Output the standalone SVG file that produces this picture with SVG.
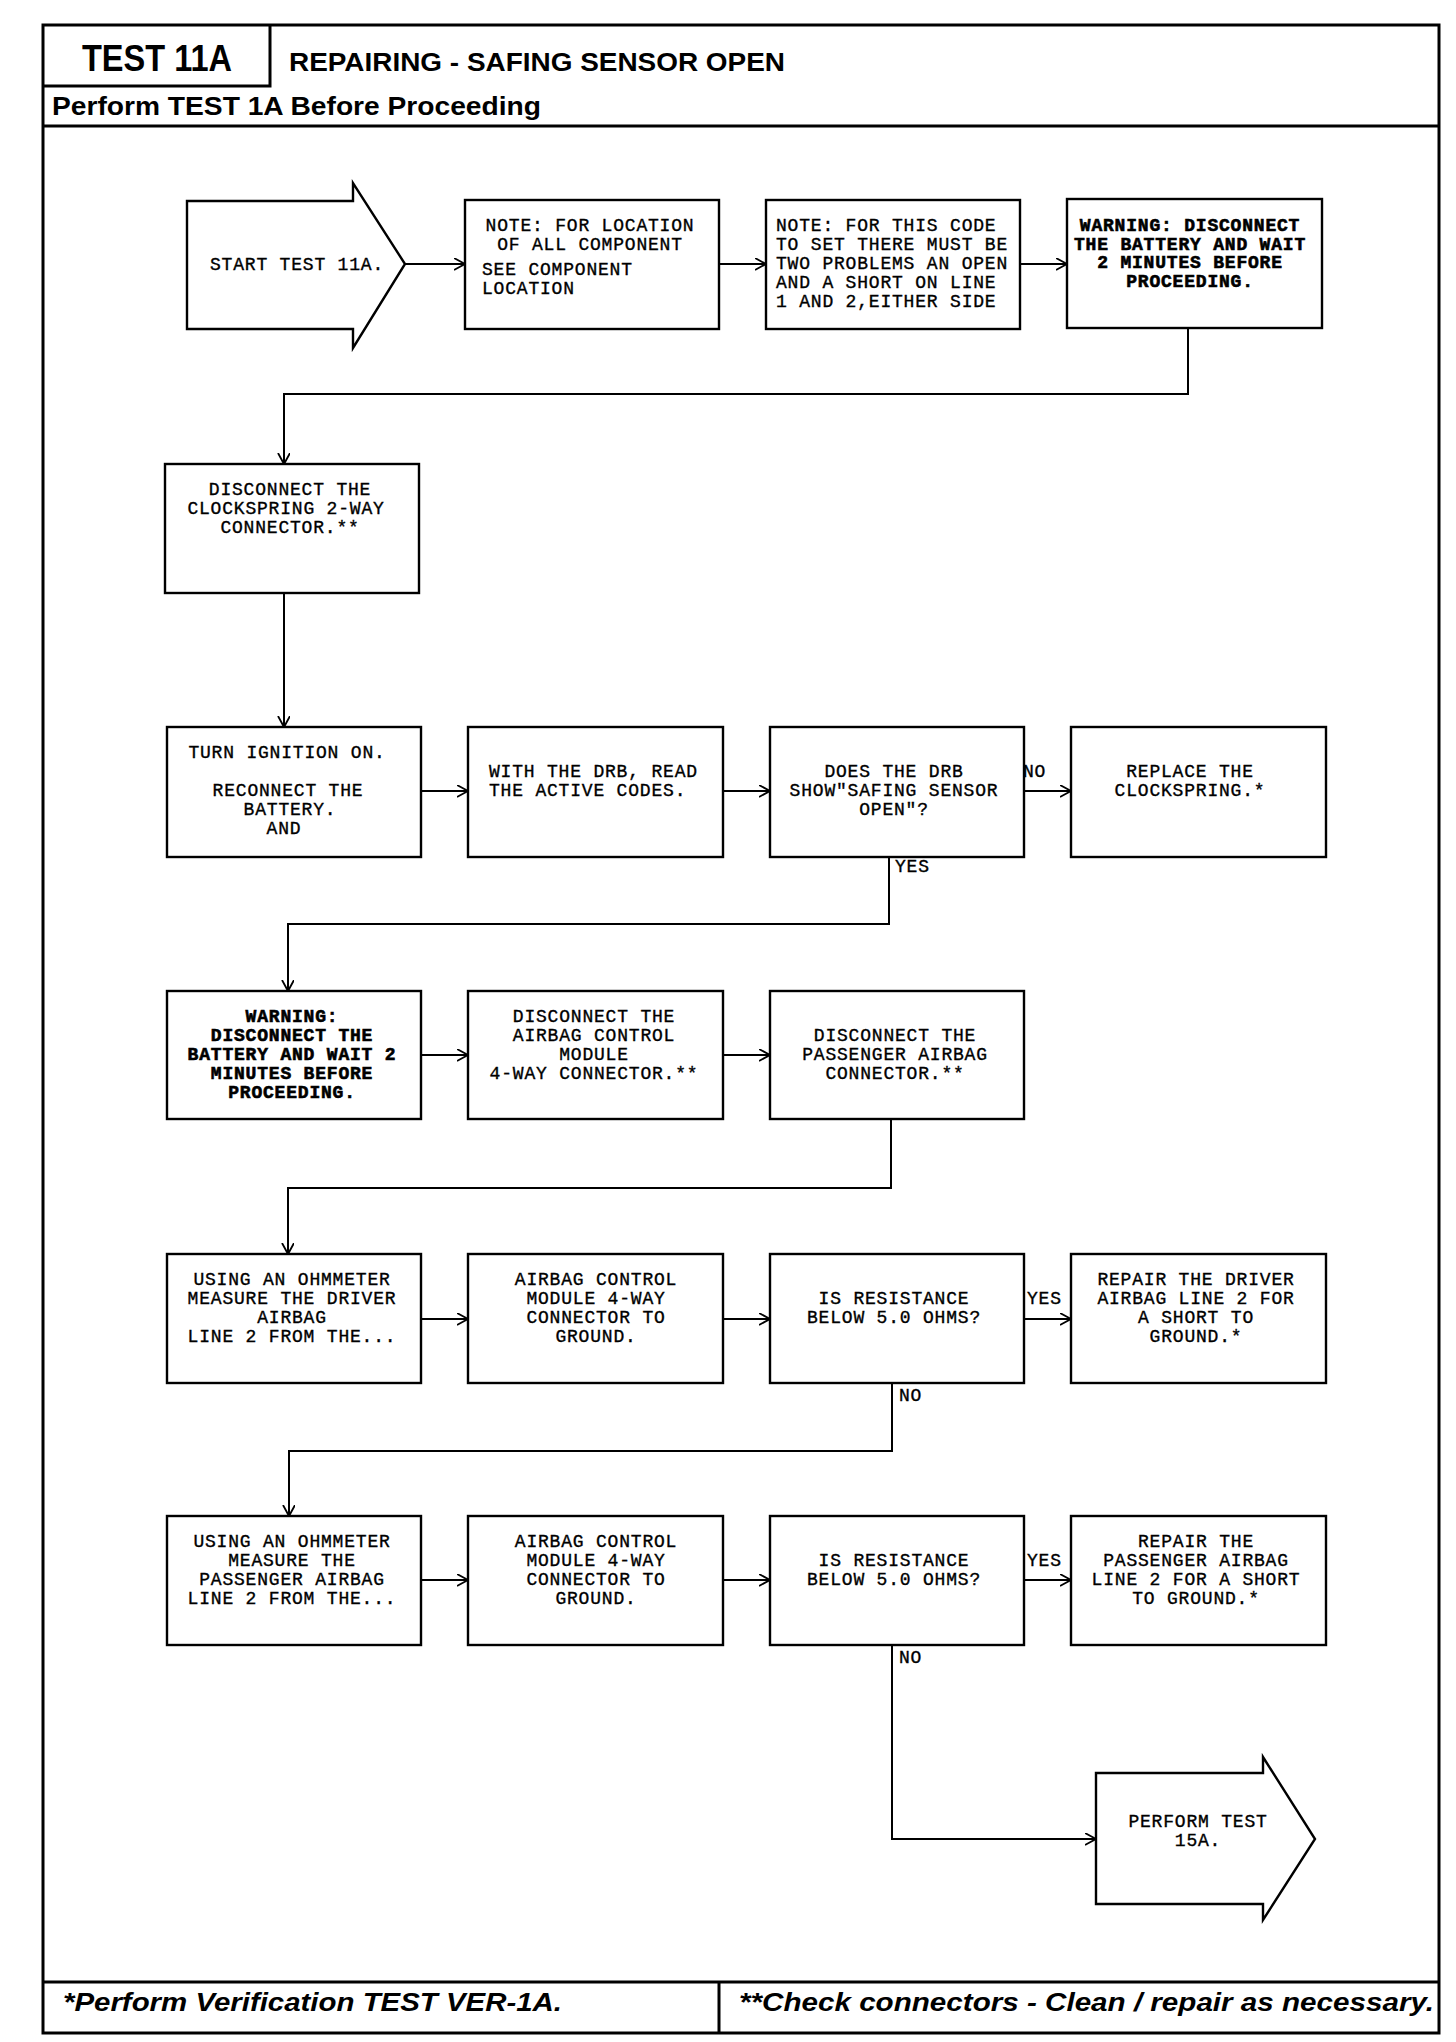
<svg xmlns="http://www.w3.org/2000/svg" width="1456" height="2042" viewBox="0 0 1456 2042">
<defs>
<marker id="arr" markerUnits="userSpaceOnUse" markerWidth="14" markerHeight="14" refX="11" refY="6" orient="auto">
<path d="M0,0 L11,6 L0,12" fill="none" stroke="#000" stroke-width="1.8"/>
</marker>
<style>
.box{fill:#fff;stroke:#000;stroke-width:2.4}
.frame{fill:none;stroke:#000;stroke-width:3}
.ln{fill:none;stroke:#000;stroke-width:2}
.con{fill:none;stroke:#000;stroke-width:2;marker-end:url(#arr)}
.t{font-family:"Liberation Mono","DejaVu Sans Mono",monospace;font-size:18px;letter-spacing:0.8px;fill:#000;stroke:#000;stroke-width:0.35}
.b{font-weight:bold;stroke-width:0.6}
.c{text-anchor:middle}
.h{font-family:"Liberation Sans",Arial,sans-serif;font-weight:bold;fill:#000}
.f{font-family:"Liberation Sans",Arial,sans-serif;font-weight:bold;font-style:italic;font-size:25px;fill:#000}
</style>
</defs>
<rect width="1456" height="2042" fill="#fff"/>

<g id="header">
<rect class="frame" x="43" y="25" width="1396" height="2008"/>
<path class="frame" d="M270,25 V86 H43"/>
<path class="frame" d="M43,126 H1439"/>
<text class="h" x="82" y="71" font-size="36" textLength="150" lengthAdjust="spacingAndGlyphs">TEST 11A</text>
<text class="h" x="289" y="71" font-size="25" textLength="496" lengthAdjust="spacingAndGlyphs">REPAIRING - SAFING SENSOR OPEN</text>
<text class="h" x="52" y="115" font-size="25" textLength="489" lengthAdjust="spacingAndGlyphs">Perform TEST 1A Before Proceeding</text>
</g>

<g id="footer">
<path class="frame" d="M43,1982 H1439 M719,1982 V2033"/>
<text class="f" x="63" y="2011" textLength="499" lengthAdjust="spacingAndGlyphs">*Perform Verification TEST VER-1A.</text>
<text class="f" x="739" y="2011" textLength="695" lengthAdjust="spacingAndGlyphs">**Check connectors - Clean / repair as necessary.</text>
</g>

<g id="connectors">
<path class="con" d="M405,264 H465"/>
<path class="con" d="M719,264 H766"/>
<path class="con" d="M1020,264 H1067"/>
<path class="con" d="M1188,329 V394 H284 V464"/>
<path class="con" d="M284,593 V727"/>
<path class="con" d="M421,791 H468"/>
<path class="con" d="M723,791 H770"/>
<path class="con" d="M1024,791 H1071"/>
<path class="con" d="M889,857 V924 H288 V991"/>
<path class="con" d="M421,1055 H468"/>
<path class="con" d="M723,1055 H770"/>
<path class="con" d="M891,1119 V1188 H288 V1254"/>
<path class="con" d="M421,1319 H468"/>
<path class="con" d="M723,1319 H770"/>
<path class="con" d="M1024,1319 H1071"/>
<path class="con" d="M892,1383 V1451 H289 V1516"/>
<path class="con" d="M421,1580 H468"/>
<path class="con" d="M723,1580 H770"/>
<path class="con" d="M1024,1580 H1071"/>
<path class="con" d="M892,1645 V1839 H1096"/>
<text class="t" x="1023" y="777">NO</text>
<text class="t" x="895" y="872">YES</text>
<text class="t" x="1027" y="1304">YES</text>
<text class="t" x="899" y="1401">NO</text>
<text class="t" x="1027" y="1566">YES</text>
<text class="t" x="899" y="1663">NO</text>
</g>

<g id="start">
<polygon class="box" points="187,201 353,201 353,183 405,264 353,348 353,329 187,329"/>
<text class="t" x="210" y="270">START TEST 11A.</text>
</g>

<g id="note1">
<rect class="box" x="465" y="200" width="254" height="129"/>
<text class="t c" x="590" y="231">NOTE: FOR LOCATION</text>
<text class="t c" x="590" y="250">OF ALL COMPONENT</text>
<text class="t" x="482" y="275">SEE COMPONENT</text>
<text class="t" x="482" y="294">LOCATION</text>
</g>

<g id="note2">
<rect class="box" x="766" y="200" width="254" height="129"/>
<text class="t" x="776" y="231">NOTE: FOR THIS CODE</text>
<text class="t" x="776" y="250">TO SET THERE MUST BE</text>
<text class="t" x="776" y="269">TWO PROBLEMS AN OPEN</text>
<text class="t" x="776" y="288">AND A SHORT ON LINE</text>
<text class="t" x="776" y="307">1 AND 2,EITHER SIDE</text>
</g>

<g id="warning1">
<rect class="box" x="1067" y="199" width="255" height="129"/>
<text class="t b c" x="1190" y="231">WARNING: DISCONNECT</text>
<text class="t b c" x="1190" y="250">THE BATTERY AND WAIT</text>
<text class="t b c" x="1190" y="268">2 MINUTES BEFORE</text>
<text class="t b c" x="1190" y="287">PROCEEDING.</text>
</g>

<g id="disconnect-clockspring">
<rect class="box" x="165" y="464" width="254" height="129"/>
<text class="t c" x="290" y="495">DISCONNECT THE</text>
<text class="t c" x="286" y="514">CLOCKSPRING 2-WAY</text>
<text class="t c" x="290" y="533">CONNECTOR.**</text>
</g>

<g id="turn-ignition">
<rect class="box" x="167" y="727" width="254" height="130"/>
<text class="t c" x="287" y="758">TURN IGNITION ON.</text>
<text class="t c" x="288" y="796">RECONNECT THE</text>
<text class="t c" x="290" y="815">BATTERY.</text>
<text class="t c" x="284" y="834">AND</text>
</g>

<g id="read-codes">
<rect class="box" x="468" y="727" width="255" height="130"/>
<text class="t" x="489" y="777">WITH THE DRB, READ</text>
<text class="t" x="489" y="796">THE ACTIVE CODES.</text>
</g>

<g id="does-drb">
<rect class="box" x="770" y="727" width="254" height="130"/>
<text class="t c" x="894" y="777">DOES THE DRB</text>
<text class="t c" x="894" y="796">SHOW"SAFING SENSOR</text>
<text class="t c" x="894" y="815">OPEN"?</text>
</g>

<g id="replace-clockspring">
<rect class="box" x="1071" y="727" width="255" height="130"/>
<text class="t c" x="1190" y="777">REPLACE THE</text>
<text class="t c" x="1190" y="796">CLOCKSPRING.*</text>
</g>

<g id="warning2">
<rect class="box" x="167" y="991" width="254" height="128"/>
<text class="t b c" x="292" y="1022">WARNING:</text>
<text class="t b c" x="292" y="1041">DISCONNECT THE</text>
<text class="t b c" x="292" y="1060">BATTERY AND WAIT 2</text>
<text class="t b c" x="292" y="1079">MINUTES BEFORE</text>
<text class="t b c" x="292" y="1098">PROCEEDING.</text>
</g>

<g id="disconnect-acm">
<rect class="box" x="468" y="991" width="255" height="128"/>
<text class="t c" x="594" y="1022">DISCONNECT THE</text>
<text class="t c" x="594" y="1041">AIRBAG CONTROL</text>
<text class="t c" x="594" y="1060">MODULE</text>
<text class="t c" x="594" y="1079">4-WAY CONNECTOR.**</text>
</g>

<g id="disconnect-passenger">
<rect class="box" x="770" y="991" width="254" height="128"/>
<text class="t c" x="895" y="1041">DISCONNECT THE</text>
<text class="t c" x="895" y="1060">PASSENGER AIRBAG</text>
<text class="t c" x="895" y="1079">CONNECTOR.**</text>
</g>

<g id="measure-driver">
<rect class="box" x="167" y="1254" width="254" height="129"/>
<text class="t c" x="292" y="1285">USING AN OHMMETER</text>
<text class="t c" x="292" y="1304">MEASURE THE DRIVER</text>
<text class="t c" x="292" y="1323">AIRBAG</text>
<text class="t c" x="292" y="1342">LINE 2 FROM THE...</text>
</g>

<g id="acm-ground-1">
<rect class="box" x="468" y="1254" width="255" height="129"/>
<text class="t c" x="596" y="1285">AIRBAG CONTROL</text>
<text class="t c" x="596" y="1304">MODULE 4-WAY</text>
<text class="t c" x="596" y="1323">CONNECTOR TO</text>
<text class="t c" x="596" y="1342">GROUND.</text>
</g>

<g id="resistance-1">
<rect class="box" x="770" y="1254" width="254" height="129"/>
<text class="t c" x="894" y="1304">IS RESISTANCE</text>
<text class="t c" x="894" y="1323">BELOW 5.0 OHMS?</text>
</g>

<g id="repair-driver">
<rect class="box" x="1071" y="1254" width="255" height="129"/>
<text class="t c" x="1196" y="1285">REPAIR THE DRIVER</text>
<text class="t c" x="1196" y="1304">AIRBAG LINE 2 FOR</text>
<text class="t c" x="1196" y="1323">A SHORT TO</text>
<text class="t c" x="1196" y="1342">GROUND.*</text>
</g>

<g id="measure-passenger">
<rect class="box" x="167" y="1516" width="254" height="129"/>
<text class="t c" x="292" y="1547">USING AN OHMMETER</text>
<text class="t c" x="292" y="1566">MEASURE THE</text>
<text class="t c" x="292" y="1585">PASSENGER AIRBAG</text>
<text class="t c" x="292" y="1604">LINE 2 FROM THE...</text>
</g>

<g id="acm-ground-2">
<rect class="box" x="468" y="1516" width="255" height="129"/>
<text class="t c" x="596" y="1547">AIRBAG CONTROL</text>
<text class="t c" x="596" y="1566">MODULE 4-WAY</text>
<text class="t c" x="596" y="1585">CONNECTOR TO</text>
<text class="t c" x="596" y="1604">GROUND.</text>
</g>

<g id="resistance-2">
<rect class="box" x="770" y="1516" width="254" height="129"/>
<text class="t c" x="894" y="1566">IS RESISTANCE</text>
<text class="t c" x="894" y="1585">BELOW 5.0 OHMS?</text>
</g>

<g id="repair-passenger">
<rect class="box" x="1071" y="1516" width="255" height="129"/>
<text class="t c" x="1196" y="1547">REPAIR THE</text>
<text class="t c" x="1196" y="1566">PASSENGER AIRBAG</text>
<text class="t c" x="1196" y="1585">LINE 2 FOR A SHORT</text>
<text class="t c" x="1196" y="1604">TO GROUND.*</text>
</g>

<g id="perform-15a">
<polygon class="box" points="1096,1773 1263,1773 1263,1757 1315,1839 1263,1920 1263,1904 1096,1904"/>
<text class="t c" x="1198" y="1827">PERFORM TEST</text>
<text class="t c" x="1198" y="1846">15A.</text>
</g>
</svg>
